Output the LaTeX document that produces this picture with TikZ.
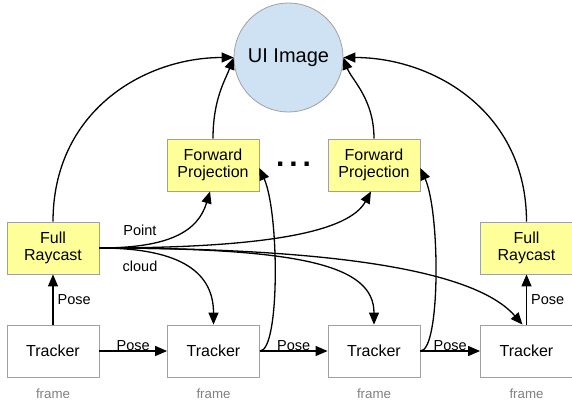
\documentclass[tikz,border=0pt]{standalone}
\usepackage{fontspec}
\setmainfont{Liberation Sans}
\usetikzlibrary{arrows.meta}
\definecolor{boxgray}{HTML}{A0A0A0}
\definecolor{procfill}{HTML}{FFFF99}
\definecolor{imgfill}{HTML}{CFE2F3}
\definecolor{framegray}{HTML}{808080}
\begin{document}
\begin{tikzpicture}[x=1pt,y=1pt,
  box/.style={draw=boxgray, line width=0.8pt, minimum width=92pt, minimum height=52pt,
    inner sep=2pt, align=center, font=\fontsize{16}{17}\selectfont},
  proc/.style={box, fill=procfill},
  trk/.style={box, fill=white},
  img/.style={circle, draw=boxgray, line width=0.8pt, fill=imgfill, minimum size=109pt,
    inner sep=0pt, font=\fontsize{20}{24}\selectfont},
  lbl/.style={font=\fontsize{14.5}{17}\selectfont, inner sep=1pt},
  framelbl/.style={font=\fontsize{13.3}{15}\selectfont, text=framegray, inner sep=1pt},
  flow/.style={line width=1.3pt, -{Triangle[length=12pt, width=10pt]}},
]
\useasboundingbox (0,0) rectangle (572,-405);

% image and processing stages
\node[img] (ui) at (288.5,-57.5) {UI Image};
\node[proc] (fp1) at (213,-165) {Forward\\Projection};
\node[proc] (fp2) at (374,-165) {Forward\\Projection};
\node[font=\fontsize{30}{30}\selectfont\bfseries, inner sep=0pt] (dots) at (293.5,-164)
  {.\hspace{5pt}.\hspace{5pt}.};
\node[proc] (r1) at (53,-248) {Full\\Raycast};
\node[proc] (r2) at (526.5,-248) {Full\\Raycast};

% trackers
\node[trk] (t1) at (53,-351) {Tracker};
\node[trk] (t2) at (213.5,-351) {Tracker};
\node[trk] (t3) at (374,-351) {Tracker};
\node[trk] (t4) at (526.5,-351) {Tracker};

\foreach \t in {t1,t2,t3,t4}
  \node[framelbl] at ([yshift=-16pt]\t.south) {frame};

% pose chain
\draw[flow] (t1) -- (t2) node[lbl, midway, above, yshift=-1pt] {Pose};
\draw[flow] (t2) -- (t3) node[lbl, midway, above, yshift=-1pt] {Pose};
\draw[flow] (t3) -- (t4) node[lbl, midway, above, yshift=-1pt] {Pose};
\draw[flow] (t1) -- (r1) node[lbl, midway, right, xshift=3pt] {Pose};
\draw[flow] (t4) -- (r2) node[lbl, midway, right, xshift=3pt] {Pose};

% results into the image
\draw[flow] (r1.north) .. controls +(0,110) and +(-90,0) .. (ui.west);
\draw[flow] (fp1.north) .. controls +(0,40) and +(-8,-22) .. (ui.west);
\draw[flow] (fp2.north) .. controls +(0,40) and +(8,-22) .. (ui.east);
\draw[flow] (r2.north) .. controls +(0,110) and +(90,0) .. (ui.east);

% trackers feeding the projections
\draw[flow] (t2.east) .. controls +(20,0) and +(20,-45) .. ([yshift=-3pt]fp1.east);
\draw[flow] (t3.east) .. controls +(20,0) and +(20,-45) .. ([yshift=-3pt]fp2.east);

% point cloud from the raycast
\draw[flow] (r1.east) .. controls +(70,0) and +(-12,-40) .. ([xshift=-3pt]fp1.south);
\draw[flow] (r1.east) .. controls +(170,0) and +(-22,-40) .. ([xshift=-3pt]fp2.south);
\draw[flow] (r1.east) .. controls +(85,0) and +(0,50) .. (t2.north);
\draw[flow] (r1.east) .. controls +(200,0) and +(0,60) .. (t3.north);
\draw[flow] (r1.east) .. controls +(300,0) and +(-35,40) .. ([xshift=-4pt]t4.north);
\node[lbl] (pt) at (140,-230) {Point};
\node[lbl] (cl) at (140,-266) {cloud};
\end{tikzpicture}
\end{document}
